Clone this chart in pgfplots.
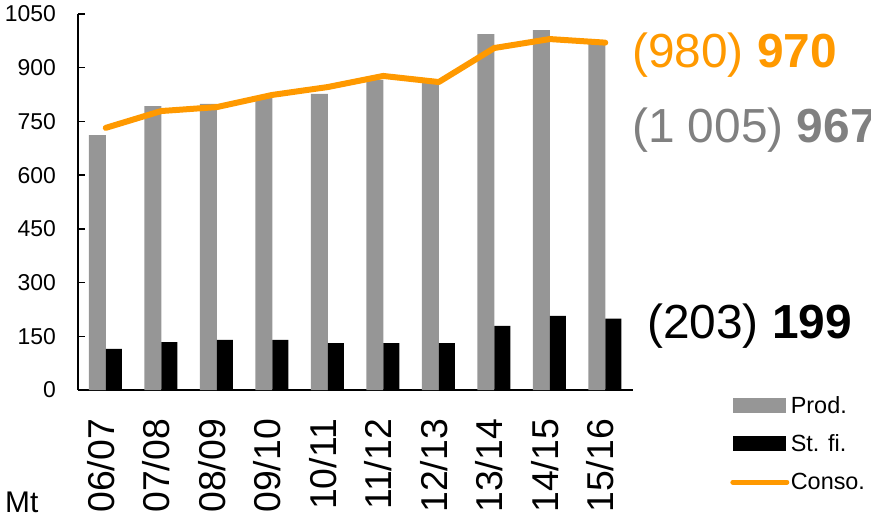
\documentclass[border=0pt]{standalone}
\usepackage{fontspec}
\setmainfont{Liberation Sans}
\usepackage{pgfplots}
\pgfplotsset{compat=1.18}
\definecolor{prodgray}{RGB}{150,150,150}
\definecolor{consoorange}{RGB}{255,153,0}
\definecolor{txtgray}{RGB}{128,128,128}
\begin{document}
\begin{tikzpicture}
\useasboundingbox (0,0) rectangle (871bp,520bp);
\begin{axis}[
  at={(78bp,130bp)}, anchor=south west,
  scale only axis, width=555bp, height=376bp,
  xmin=-0.5, xmax=9.5, ymin=0, ymax=1050,
  axis x line*=bottom, axis y line*=left,
  axis line style={line width=1.5bp, black},
  ytick={0,150,...,1050},
  xtick={0,...,9},
  xticklabels={06/07,07/08,08/09,09/10,10/11,11/12,12/13,13/14,14/15,15/16},
  xtick style={draw=none},
  ytick style={line width=1.5bp, black},
  tick align=inside, major tick length=7bp,
  /pgf/number format/assume math mode=true,
  /pgf/number format/1000 sep={},
  yticklabel style={font=\fontsize{23}{23}\selectfont, inner sep=0pt, xshift=-22bp},
  xticklabel style={font=\fontsize{37.5}{37.5}\selectfont, inner sep=0pt, yshift=-29bp, xshift=-5bp, rotate=90, anchor=east},
  clip=false,
  legend style={draw=none, fill=none, inner sep=0pt, at={(rel axis cs:1.175,-0.012)}, anchor=north west,
    font=\fontsize{23.5}{23.5}\selectfont, row sep=17bp, nodes={inner sep=1.5bp}},
  legend cell align=left,
]
\addplot[ybar, bar width=17bp, bar shift=-8.5bp, fill=prodgray, draw=none,
  legend image code/.code={\fill[prodgray] (0bp,-7.5bp) rectangle (53bp,7.5bp);}]
  coordinates {(0,712) (1,793) (2,799) (3,818) (4,827) (5,866) (6,857) (7,994) (8,1005) (9,967)};
\addlegendentry{Prod.}
\addplot[ybar, bar width=16bp, bar shift=8bp, fill=black, draw=none,
  legend image code/.code={\fill[black] (0bp,-7.5bp) rectangle (53bp,7.5bp);}]
  coordinates {(0,115) (1,134) (2,140) (3,140) (4,131) (5,131) (6,131) (7,179) (8,207) (9,199)};
\addlegendentry{St. fi.}
\addplot[consoorange, line width=6bp, line join=round, line cap=round, mark=none,
  legend image code/.code={\draw[consoorange, line width=5bp, line cap=round] (0bp,0bp) -- (54bp,0bp);}]
  coordinates {(0,732) (1,779) (2,790) (3,824) (4,846) (5,877) (6,860) (7,955) (8,980) (9,970)};
\addlegendentry{Conso.}
\node[anchor=base west, inner sep=0pt, text=consoorange, font=\fontsize{48}{48}\selectfont] at (rel axis cs:0.998,0.859) {(980) \textbf{970}};
\node[anchor=base west, inner sep=0pt, text=txtgray, font=\fontsize{48}{48}\selectfont] at (rel axis cs:0.998,0.657) {(1 005) \textbf{967}};
\node[anchor=base west, inner sep=0pt, text=black, font=\fontsize{48}{48}\selectfont] at (rel axis cs:1.025,0.138) {(203) \textbf{199}};
\node[anchor=base west, inner sep=0pt, font=\fontsize{30}{30}\selectfont] at (rel axis cs:-0.1315,-0.327) {Mt};
\end{axis}
\end{tikzpicture}
\end{document}
